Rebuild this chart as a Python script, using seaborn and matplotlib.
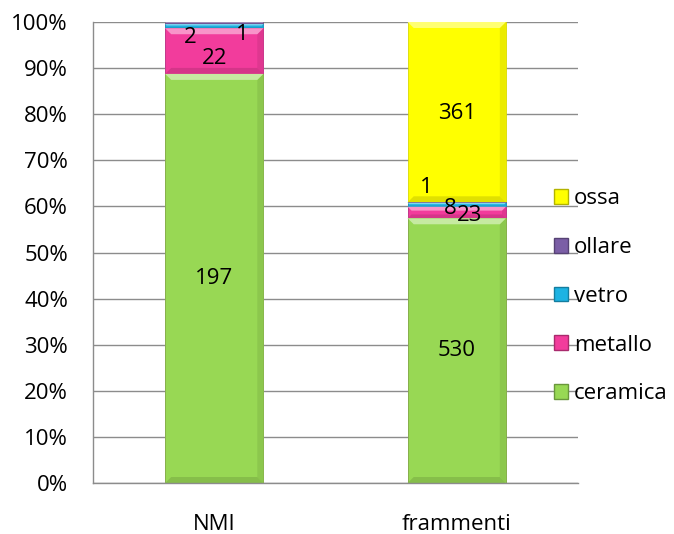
import matplotlib
matplotlib.use("Agg")
import matplotlib.pyplot as plt
from matplotlib.patches import Patch, Polygon
from matplotlib.colors import to_rgb
import numpy as np
import pandas as pd
import seaborn as sns

categories = ["NMI", "frammenti"]
materials = ["ceramica", "metallo", "vetro", "ollare", "ossa"]
ceramica = [197, 530]
metallo = [22, 23]
vetro = [2, 8]
ollare = [1, 1]
ossa = [0, 361]
y_ticks = [0, 10, 20, 30, 40, 50, 60, 70, 80, 90, 100]

colors = {
    "ceramica": "#98D854",
    "metallo": "#F23C9C",
    "vetro": "#1DB3E3",
    "ollare": "#7B5EA6",
    "ossa": "#FFFF00",
}


def shade(c, f):
    r = np.array(to_rgb(c))
    if f > 0:
        r = r + (1 - r) * f
    else:
        r = r * (1 + f)
    return tuple(np.clip(r, 0, 1))


counts = pd.DataFrame(
    {"ceramica": ceramica, "metallo": metallo, "vetro": vetro,
     "ollare": ollare, "ossa": ossa},
    index=categories,
)
pct = counts.div(counts.sum(axis=1), axis=0) * 100
cum = pct.cumsum(axis=1)
base = cum - pct

sns.set_style("white")
plt.rcParams["font.family"] = ["Open Sans", "DejaVu Sans"]
FS = 16

fig = plt.figure(figsize=(6.74, 5.34), dpi=100)
ax = fig.add_axes([0.138, 0.0955, 0.7196, 0.8633])

# grid lines behind bars
for t in y_ticks:
    ax.axhline(t, color="#8C8C8C", lw=1.0, zorder=0)

# stacked bars: draw cumulative totals from the top layer down,
# each with a soft bevel along its edges
bev_x = 0.025
bev_y = 1.3
for m in reversed(materials):
    df = pd.DataFrame({"cat": categories, "val": cum[m].values})
    n0 = len(ax.patches)
    sns.barplot(data=df, x="cat", y="val", order=categories, color=colors[m],
                width=0.405, ax=ax, saturation=1, edgecolor=shade(colors[m], -0.15),
                linewidth=0.6, zorder=2)
    new = list(ax.patches[n0:])
    for p, c in zip(new, categories):
        seg = pct.loc[c, m]
        if seg <= 0:
            continue
        x0, w = p.get_x(), p.get_width()
        top = p.get_y() + p.get_height()
        bot = base.loc[c, m]
        by = min(bev_y, seg / 3)
        bx = bev_x * by / bev_y
        # right side, slightly darker
        ax.add_patch(Polygon([(x0 + w, top), (x0 + w, bot), (x0 + w - bx, bot + by),
                              (x0 + w - bx, top - by)], closed=True,
                             facecolor=shade(colors[m], -0.08), lw=0, zorder=2))
        # top, light
        ax.add_patch(Polygon([(x0, top), (x0 + w, top), (x0 + w - bx, top - by),
                              (x0 + bx, top - by)], closed=True,
                             facecolor=shade(colors[m], 0.45), lw=0, zorder=2))
        # bottom, darker
        ax.add_patch(Polygon([(x0, bot), (x0 + w, bot), (x0 + w - bx, bot + by),
                              (x0 + bx, bot + by)], closed=True,
                             facecolor=shade(colors[m], -0.12), lw=0, zorder=2))

# data labels (offsets in points from segment centres)
label_offsets = {
    ("NMI", "ceramica"): (0, 0),
    ("NMI", "metallo"): (0, -5),
    ("NMI", "vetro"): (-17, -8),
    ("NMI", "ollare"): (20, -8),
    ("frammenti", "ceramica"): (0, 0),
    ("frammenti", "metallo"): (9, -2),
    ("frammenti", "vetro"): (-5, -3),
    ("frammenti", "ossa"): (0, -1),
    ("frammenti", "ollare"): (-22, 11),
}
for i, c in enumerate(categories):
    for m in materials:
        v = counts.loc[c, m]
        if v == 0:
            continue
        yc = base.loc[c, m] + pct.loc[c, m] / 2
        dx, dy = label_offsets.get((c, m), (0, 0))
        ax.annotate(str(v), (i, yc), xytext=(dx, dy), textcoords="offset points",
                    ha="center", va="center", fontsize=FS, color="black",
                    zorder=5)

ax.set_xlim(-0.5, 1.5)
ax.set_ylim(0, 100)
ax.set_yticks(y_ticks)
ax.set_yticklabels([f"{t}%" for t in y_ticks], fontsize=FS, color="black")
ax.set_xticks([0, 1])
ax.set_xticklabels(categories, fontsize=FS, color="black")
ax.set_xticks([-0.5, 0.5, 1.5], minor=True)
ax.tick_params(axis="x", which="major", length=0, pad=22)
ax.tick_params(axis="x", which="minor", length=5, color="#8C8C8C", width=1)
ax.tick_params(axis="y", length=5, color="#8C8C8C", width=1, pad=13)
ax.set_xlabel("")
ax.set_ylabel("")
for s in ["top", "right"]:
    ax.spines[s].set_visible(False)
for s in ["left", "bottom"]:
    ax.spines[s].set_color("#8C8C8C")
    ax.spines[s].set_linewidth(1.0)

handles = [Patch(facecolor=colors[m], edgecolor=shade(colors[m], -0.3), label=m)
           for m in reversed(materials)]
leg = ax.legend(handles=handles, loc="center left", bbox_to_anchor=(0.95, 0.405),
                frameon=False, fontsize=FS, handlelength=0.65, handleheight=0.65,
                handletextpad=0.25, labelspacing=1.25, borderaxespad=0, borderpad=0)
for t in leg.get_texts():
    t.set_color("black")

fig.savefig("out.png", dpi=100)
